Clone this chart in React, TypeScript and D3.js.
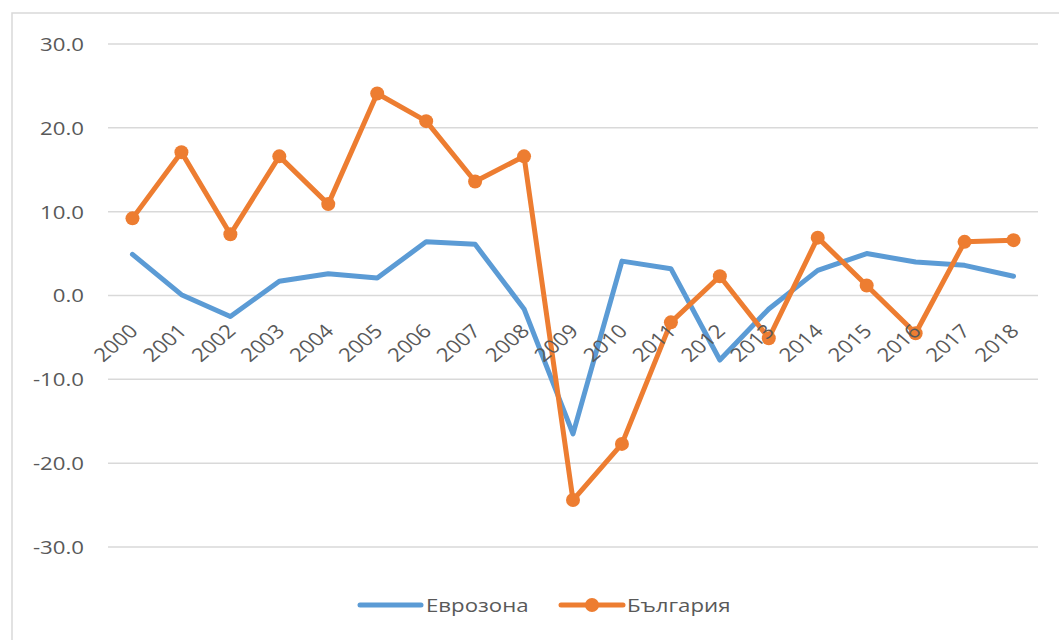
import React from "react";
import * as d3 from "d3";

const years = [
  "2000", "2001", "2002", "2003", "2004", "2005", "2006", "2007", "2008", "2009",
  "2010", "2011", "2012", "2013", "2014", "2015", "2016", "2017", "2018",
];
const eurozone = [4.9, 0.1, -2.5, 1.7, 2.6, 2.1, 6.4, 6.1, -1.6, -16.5, 4.1, 3.2, -7.7, -1.6, 3.0, 5.0, 4.0, 3.6, 2.3];
const bulgaria = [9.2, 17.1, 7.3, 16.6, 10.9, 24.1, 20.8, 13.6, 16.6, -24.4, -17.7, -3.2, 2.3, -5.1, 6.9, 1.2, -4.5, 6.4, 6.6];
const yTicks = [30, 20, 10, 0, -10, -20, -30];
const seriesNames = ["Еврозона", "България"];

const W = 1059;
const H = 640;
const blue = "#5b9bd5";
const orange = "#ed7d31";
const font = "'Open Sans', 'Liberation Sans', sans-serif";
const stretch = 1.17; // the picture's text is a bit wider than the font

export default function App() {
  const x = d3.scaleBand().domain(years).range([108, 1038]);
  const y = d3.scaleLinear().domain([-30, 30]).range([547, 44]);
  const cx = (d: string) => (x(d) as number) + x.bandwidth() / 2;

  const line = d3
    .line<number>()
    .x((_, i) => cx(years[i]))
    .y((v) => y(v));

  return (
    <svg
      width={W}
      height={H}
      style={{ position: "absolute", left: 0, top: 0, background: "#fff" }}
    >
      <rect x={12} y={13} width={W} height={H} fill="#fff" stroke="#d9d9d9" strokeWidth={1.5} />

      {yTicks.map((t) => (
        <g key={t}>
          <line x1={108} x2={1038} y1={y(t)} y2={y(t)} stroke="#d9d9d9" strokeWidth={1.5} />
          <text
            transform={`translate(84, ${y(t)}) scale(${stretch}, 1)`}
            dy="0.36em"
            textAnchor="end"
            fontFamily={font}
            fontSize={19}
            fill="#595959"
          >
            {t.toFixed(1)}
          </text>
        </g>
      ))}

      <path d={line(eurozone) ?? ""} fill="none" stroke={blue} strokeWidth={5} strokeLinejoin="round" strokeLinecap="round" />
      <path d={line(bulgaria) ?? ""} fill="none" stroke={orange} strokeWidth={5} strokeLinejoin="round" strokeLinecap="round" />
      {bulgaria.map((v, i) => (
        <circle key={i} cx={cx(years[i])} cy={y(v)} r={7} fill={orange} />
      ))}

      {years.map((yr) => (
        <text
          key={yr}
          transform={`translate(${cx(yr) + 1}, ${y(0) + 32}) scale(${stretch}, 1) rotate(-45)`}
          textAnchor="end"
          dy="0.36em"
          fontFamily={font}
          fontSize={19}
          fill="#595959"
        >
          {yr}
        </text>
      ))}

      <g fontFamily={font} fontSize={19} fill="#595959">
        <line x1={360} x2={421} y1={605} y2={605} stroke={blue} strokeWidth={5} strokeLinecap="round" />
        <text transform={`translate(426, 605) scale(${stretch}, 1)`} dy="0.36em">{seriesNames[0]}</text>
        <line x1={561} x2={623} y1={605} y2={605} stroke={orange} strokeWidth={5} strokeLinecap="round" />
        <circle cx={592} cy={605} r={7} fill={orange} />
        <text transform={`translate(627, 605) scale(${stretch}, 1)`} dy="0.36em">{seriesNames[1]}</text>
      </g>
    </svg>
  );
}
